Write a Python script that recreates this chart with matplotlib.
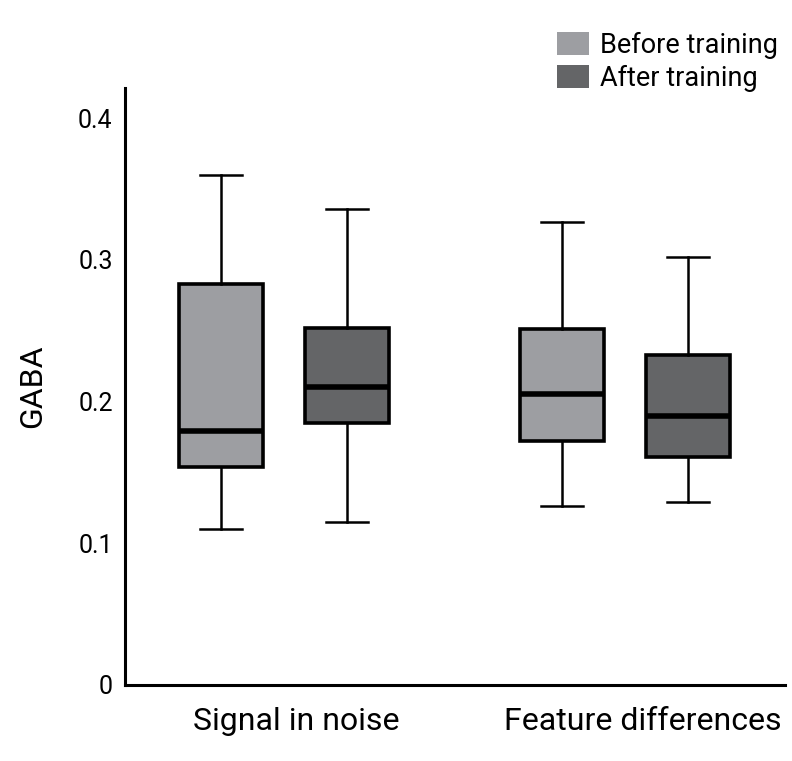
import matplotlib
matplotlib.use("Agg")
import matplotlib.pyplot as plt
from matplotlib.patches import Patch

plt.rcParams["font.family"] = ["Roboto", "DejaVu Sans"]

# data
groups = ["Signal in noise", "Feature differences"]
conditions = ["Before training", "After training"]
whis_lo = [0.110, 0.115, 0.126, 0.129]
q1 = [0.154, 0.185, 0.172, 0.161]
median = [0.179, 0.210, 0.205, 0.190]
q3 = [0.283, 0.252, 0.251, 0.233]
whis_hi = [0.360, 0.336, 0.327, 0.302]

colors = ["#9d9ea2", "#646567"]
positions = [1.0, 2.0, 3.71, 4.71]

stats = []
for i in range(len(median)):
    stats.append({
        "whislo": whis_lo[i], "q1": q1[i], "med": median[i],
        "q3": q3[i], "whishi": whis_hi[i], "fliers": [],
    })

fig = plt.figure(figsize=(7.92, 7.61), dpi=100)
ax = fig.add_axes([0.158, 0.0999, 0.833, 0.784])

bp = ax.bxp(stats, positions=positions, widths=0.667, patch_artist=True,
            showfliers=False,
            boxprops=dict(edgecolor="black", linewidth=2.6),
            medianprops=dict(color="black", linewidth=4.0),
            whiskerprops=dict(color="black", linewidth=1.8),
            capprops=dict(color="black", linewidth=1.8))
for i, box in enumerate(bp["boxes"]):
    box.set_facecolor(colors[i % 2])

ax.set_xlim(0.238, 5.48)
ax.set_ylim(0, 0.421)
ax.set_yticks([0, 0.1, 0.2, 0.3, 0.4])
ax.set_yticklabels(["0", "0.1", "0.2", "0.3", "0.4"])
ax.set_xticks([1.6, 4.35])
ax.set_xticklabels(groups)
ax.tick_params(axis="y", length=0, pad=9, labelsize=18)
ax.tick_params(axis="x", length=0, pad=16, labelsize=23)
ax.set_ylabel("GABA", fontsize=23, labelpad=22)

for side in ["top", "right"]:
    ax.spines[side].set_visible(False)
for side in ["left", "bottom"]:
    ax.spines[side].set_linewidth(2.2)

handles = [Patch(facecolor=c, edgecolor="none") for c in colors]
fig.legend(handles, conditions, loc="upper left",
           bbox_to_anchor=(0.703, 0.958), frameon=False, fontsize=19.5,
           borderpad=0, borderaxespad=0, handlelength=1.2,
           handleheight=0.9, handletextpad=0.38, labelspacing=0.22)

fig.savefig("out.png", dpi=100)
